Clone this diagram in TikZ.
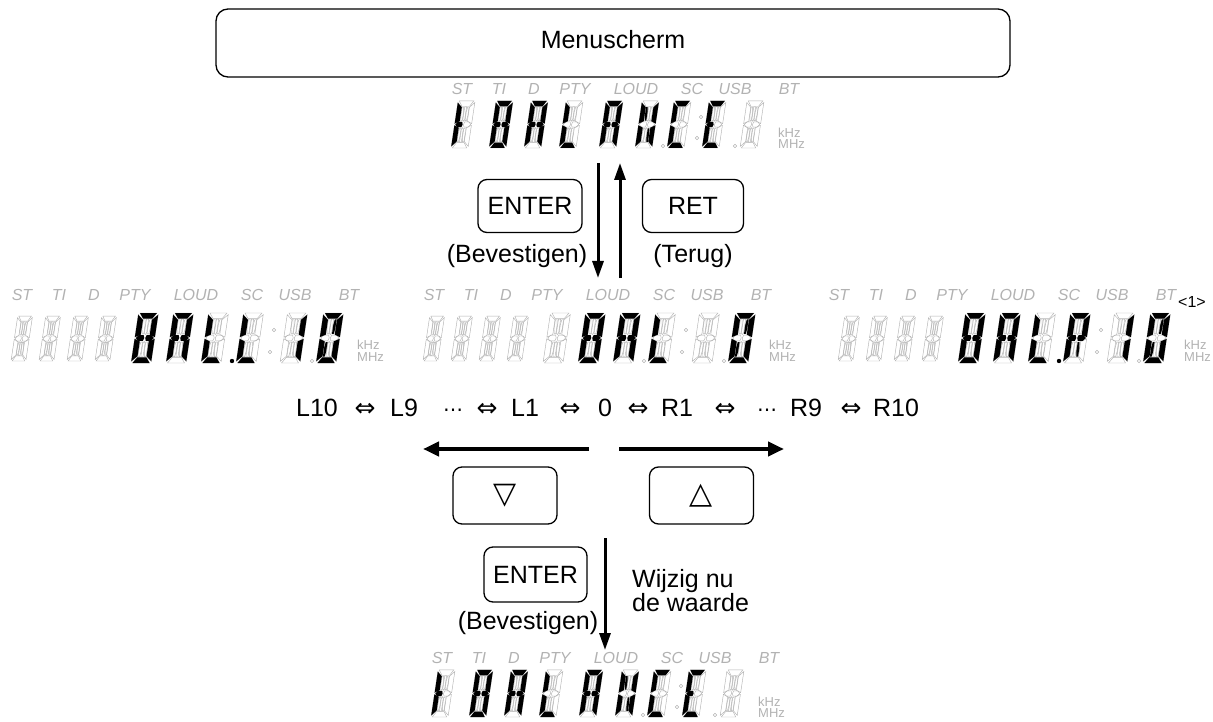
\documentclass[tikz,border=0pt]{standalone}
\usepackage{fontspec}
\setmainfont{Liberation Sans}
\newfontfamily\symfont{DejaVu Sans}
\usetikzlibrary{arrows.meta}

\newcommand{\bigfont}{\fontsize{25}{29}\selectfont}
\newcommand{\iffsym}{{\symfont ⇔}}
\newcommand{\dotsym}{{\symfont\fontsize{20}{20}\selectfont ⋯}}
\newcommand{\segA}{(1.5,44) -- (18.5,44) -- (14.5,39) -- (5.5,39) -- cycle}
\newcommand{\segB}{(20,42.5) -- (14.5,38) -- (14.5,25) -- (20,22.8) -- cycle}
\newcommand{\segC}{(20,1.5) -- (14.5,6) -- (14.5,19) -- (20,21.2) -- cycle}
\newcommand{\segD}{(1.5,0) -- (18.5,0) -- (14.5,5) -- (5.5,5) -- cycle}
\newcommand{\segE}{(0,1.5) -- (5.5,6) -- (5.5,19) -- (0,21.2) -- cycle}
\newcommand{\segF}{(0,42.5) -- (5.5,38) -- (5.5,25) -- (0,22.8) -- cycle}
\newcommand{\segGa}{(1,22) -- (3.5,24.5) -- (8.5,24.5) -- (9.4,22) -- (8.5,19.5) -- (3.5,19.5) -- cycle}
\newcommand{\segGb}{(10.6,22) -- (11.5,24.5) -- (16.5,24.5) -- (19,22) -- (16.5,19.5) -- (11.5,19.5) -- cycle}
\newcommand{\segH}{(5.9,38.3) -- (7.6,38.3) -- (8.4,34) -- (8.4,25.6) -- (6.7,25.6) -- (5.9,30) -- cycle}
\newcommand{\segI}{(8.9,38.5) -- (11.1,38.5) -- (11.1,26.5) -- (10,25) -- (8.9,26.5) -- cycle}
\newcommand{\segJ}{(14.1,38.3) -- (12.4,38.3) -- (11.6,34) -- (11.6,25.6) -- (13.3,25.6) -- (14.1,30) -- cycle}
\newcommand{\segK}{(5.9,5.7) -- (7.6,5.7) -- (8.4,10) -- (8.4,18.4) -- (6.7,18.4) -- (5.9,14) -- cycle}
\newcommand{\segL}{(8.9,5.5) -- (11.1,5.5) -- (11.1,17.5) -- (10,19) -- (8.9,17.5) -- cycle}
\newcommand{\segM}{(14.1,5.7) -- (12.4,5.7) -- (11.6,10) -- (11.6,18.4) -- (13.3,18.4) -- (14.1,14) -- cycle}
\newcommand{\segnone}{(0,0)}

\newcommand{\lcdcell}[5]{%
  \begin{scope}[shift={(#1,#2)},xslant=0.15,xscale=#3,yscale=#4]
    \foreach \sg in {A,B,C,D,E,F,Ga,Gb,H,I,J,K,L,M}{%
      \expandafter\let\expandafter\curseg\csname seg\sg\endcsname
      \draw[segoff] \curseg;}
    \foreach \sg in {#5}{%
      \expandafter\let\expandafter\curseg\csname seg\sg\endcsname
      \fill[segon] \curseg;}
  \end{scope}}
\newcommand{\lcdlabels}[3]{%
  \foreach \lbl/\dx in {ST/7,TI/44,D/79,PTY/120,LOUD/181,SC/237,USB/280,BT/334}{%
    \node[lcdlabel] (#3-\lbl) at (#1+\dx,#2) {\lbl};}}
\newcommand{\lcdunits}[4]{%
  \node[lcdunit] (#4-k) at (#1,#2) {kHz};
  \node[lcdunit] (#4-m) at (#1,#3) {MHz};}

\tikzset{
  segoff/.style={draw=black!30, line width=0.45pt},
  segon/.style={fill=black},
  lcdlabel/.style={text=black!30, font=\fontsize{16}{16}\selectfont\itshape, inner sep=0pt},
  lcdunit/.style={text=black!30, font=\fontsize{13}{13}\selectfont, inner sep=0pt, anchor=west},
  menubox/.style={draw, line width=1.3pt, rounded corners=12pt, minimum width=794pt, minimum height=68pt, text depth=8pt, font=\bigfont},
  keybox/.style={draw, line width=1.3pt, rounded corners=9pt, minimum width=104pt, minimum height=53pt, inner sep=0pt, font=\bigfont},
  keynote/.style={font=\bigfont, inner sep=0pt},
  seqtext/.style={font=\bigfont, anchor=base, inner sep=0pt},
  vflow/.style={line width=3pt, -{Triangle[length=17pt,width=11pt]}},
  hflow/.style={line width=4pt, -{Triangle[length=16pt,width=14pt]}},
}

\begin{document}
\begin{tikzpicture}[x=1pt,y=1pt]
\useasboundingbox (0,0) rectangle (1213,-722);
\node[menubox] (menu) at (613,-43) {Menuscherm};

\lcdlabels{455}{-89}{top}
\lcdunits{778}{-133}{-144}{top}
\lcdcell{451}{-148}{0.85}{1.07}{E,F,Ga}
\lcdcell{489}{-148}{0.85}{1.07}{A,B,C,D,E,F,Ga,Gb}
\lcdcell{524}{-148}{0.85}{1.07}{A,B,C,E,F,Ga,Gb}
\lcdcell{559}{-148}{0.85}{1.07}{D,E,F}
\lcdcell{599}{-148}{0.85}{1.07}{A,B,C,E,F,Ga,Gb}
\lcdcell{635}{-148}{0.85}{1.07}{B,C,E,F,H,M}
\lcdcell{667}{-148}{0.85}{1.07}{A,D,E,F}
\lcdcell{702}{-148}{0.85}{1.07}{A,D,E,F,Ga}
\lcdcell{740}{-148}{0.85}{1.07}{none}
\draw[segoff] (663,-146) circle (1.8);
\draw[segoff] (697,-138) circle (1.8);
\draw[segoff] (701,-117) circle (1.8);
\draw[segoff] (735,-146) circle (1.8);

\node[keybox] (enter1) at (530,-206) {ENTER};
\node[keybox, minimum width=101pt] (ret) at (693,-206) {RET};
\node[keynote] (confirm1) at (517,-256.5) {(Bevestigen)};
\node[keynote] (back) at (693,-256.5) {(Terug)};
\coordinate (dn1-s) at (598,-163);
\coordinate (dn1-e) at (598,-278);
\coordinate (up1-s) at (620,-278);
\coordinate (up1-e) at (620,-163);
\draw[vflow] (dn1-s) -- (dn1-e);
\draw[vflow] (up1-s) -- (up1-e);

\lcdlabels{15}{-295}{midl}
\lcdunits{357}{-345}{-357}{midl}
\foreach \cx in {11,39,67,95}{\lcdcell{\cx}{-361}{0.74}{1.02}{none}}
\lcdcell{131}{-363}{1.0}{1.136}{A,B,C,D,E,F,Ga,Gb}
\lcdcell{166}{-363}{1.0}{1.136}{A,B,C,E,F,Ga,Gb}
\lcdcell{201}{-363}{1.0}{1.136}{D,E,F}
\lcdcell{236}{-363}{1.0}{1.136}{D,E,F}
\lcdcell{280}{-363}{1.0}{1.136}{B,C}
\lcdcell{316}{-363}{1.0}{1.136}{A,B,C,D,E,F,J,K}
\fill[segon] (232,-361) circle (2.2);
\draw[segoff] (270,-352) circle (1.8);
\draw[segoff] (274,-330) circle (1.8);
\draw[segoff] (312,-361) circle (1.8);

\lcdlabels{427}{-295}{midc}
\lcdunits{769}{-345}{-357}{midc}
\foreach \cx in {423,451,479,507}{\lcdcell{\cx}{-361}{0.74}{1.02}{none}}
\lcdcell{543}{-363}{1.0}{1.136}{none}
\lcdcell{578}{-363}{1.0}{1.136}{A,B,C,D,E,F,Ga,Gb}
\lcdcell{613}{-363}{1.0}{1.136}{A,B,C,E,F,Ga,Gb}
\lcdcell{648}{-363}{1.0}{1.136}{D,E,F}
\lcdcell{692}{-363}{1.0}{1.136}{none}
\lcdcell{728}{-363}{1.0}{1.136}{A,B,C,D,E,F,J,K}
\draw[segoff] (644,-361) circle (1.8);
\draw[segoff] (682,-352) circle (1.8);
\draw[segoff] (686,-330) circle (1.8);
\draw[segoff] (724,-361) circle (1.8);

\lcdlabels{832}{-295}{midr}
\lcdunits{1184}{-345}{-357}{midr}
\foreach \cx in {838,866,894,922}{\lcdcell{\cx}{-361}{0.74}{1.02}{none}}
\lcdcell{958}{-363}{1.0}{1.136}{A,B,C,D,E,F,Ga,Gb}
\lcdcell{993}{-363}{1.0}{1.136}{A,B,C,E,F,Ga,Gb}
\lcdcell{1028}{-363}{1.0}{1.136}{D,E,F}
\lcdcell{1063}{-363}{1.0}{1.136}{A,B,E,F,Ga,Gb,M}
\lcdcell{1107}{-363}{1.0}{1.136}{B,C}
\lcdcell{1143}{-363}{1.0}{1.136}{A,B,C,D,E,F,J,K}
\fill[segon] (1059,-361) circle (2.2);
\draw[segoff] (1097,-352) circle (1.8);
\draw[segoff] (1101,-330) circle (1.8);
\draw[segoff] (1139,-361) circle (1.8);
\node[font=\fontsize{16}{16}\selectfont, inner sep=0pt] (page) at (1192,-302) {<1>};

\foreach \tok/\xx [count=\i] in {L10/317,\iffsym/365,L9/404,\dotsym/453,\iffsym/487,L1/525,\iffsym/570,0/605,\iffsym/638,R1/677,\iffsym/725,\dotsym/767,R9/806,\iffsym/851,R10/896}{%
  \node[seqtext] (seq-\i) at (\xx,-416) {\tok};}

\coordinate (lt-s) at (589,-449);
\coordinate (lt-e) at (423,-449);
\coordinate (rt-s) at (619,-449);
\coordinate (rt-e) at (784,-449);
\draw[hflow] (lt-s) -- (lt-e);
\draw[hflow] (rt-s) -- (rt-e);
\node[keybox, minimum height=57pt] (down) at (505,-495.5) {\symfont\fontsize{30}{30}\selectfont ▽};
\node[keybox, minimum height=57pt] (up) at (701.5,-495.5) {\symfont\fontsize{30}{30}\selectfont △};

\node[keybox, minimum width=103pt, minimum height=55pt] (enter2) at (535.5,-574.5) {ENTER};
\node[keynote] (confirm2) at (528,-623) {(Bevestigen)};
\node[keynote, anchor=base west] (change1) at (632,-587) {Wijzig nu};
\node[keynote, anchor=base west] (change2) at (632,-611) {de waarde};
\coordinate (dn2-s) at (605,-538);
\coordinate (dn2-e) at (605,-650);
\draw[vflow] (dn2-s) -- (dn2-e);

\lcdlabels{435}{-658}{bot}
\lcdunits{758}{-702}{-713}{bot}
\lcdcell{431}{-717}{0.85}{1.07}{E,F,Ga}
\lcdcell{469}{-717}{0.85}{1.07}{A,B,C,D,E,F,Ga,Gb}
\lcdcell{504}{-717}{0.85}{1.07}{A,B,C,E,F,Ga,Gb}
\lcdcell{539}{-717}{0.85}{1.07}{D,E,F}
\lcdcell{579}{-717}{0.85}{1.07}{A,B,C,E,F,Ga,Gb}
\lcdcell{615}{-717}{0.85}{1.07}{B,C,E,F,H,M}
\lcdcell{647}{-717}{0.85}{1.07}{A,D,E,F}
\lcdcell{682}{-717}{0.85}{1.07}{A,D,E,F,Ga}
\lcdcell{720}{-717}{0.85}{1.07}{none}
\draw[segoff] (643,-715) circle (1.8);
\draw[segoff] (677,-707) circle (1.8);
\draw[segoff] (681,-686) circle (1.8);
\draw[segoff] (715,-715) circle (1.8);
\end{tikzpicture}
\end{document}
